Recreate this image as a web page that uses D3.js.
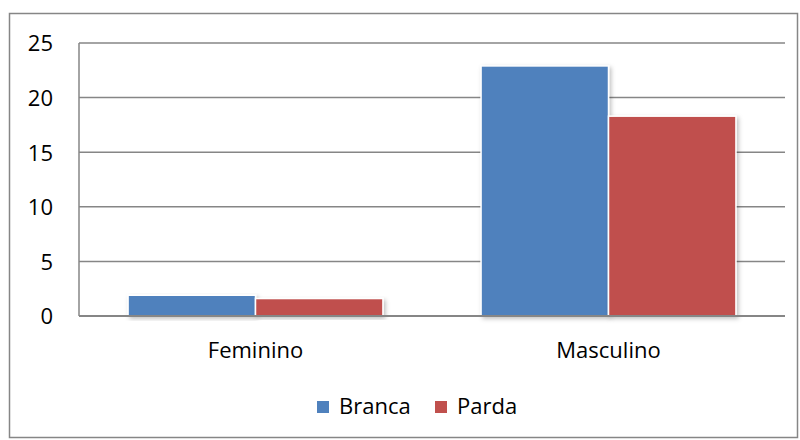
<!DOCTYPE html>
<html>
<head>
<meta charset="utf-8">
<script src="https://cdn.jsdelivr.net/npm/d3@7"></script>
<style>
  body { margin: 0; background: #fff; }
  svg text { font-family: "Open Sans", Lato, sans-serif; fill: #000; }
</style>
</head>
<body>
<svg id="chart" width="800" height="440"></svg>
<script>
var categories = ["Feminino", "Masculino"];
var seriesNames = ["Branca", "Parda"];
var branca = [1.9, 22.9];
var parda = [1.6, 18.3];
var yTicks = [0, 5, 10, 15, 20, 25];
var colors = ["#4f81bd", "#c0504d"];

var svg = d3.select("#chart");
var plotLeft = 79, plotRight = 785, plotTop = 43, plotBottom = 316;

// outer frame
svg.append("rect")
  .attr("x", 9.5).attr("y", 13.5)
  .attr("width", 788).attr("height", 424)
  .attr("fill", "#fff").attr("stroke", "#868686").attr("stroke-width", 1.5);

var defs = svg.append("defs");
var f = defs.append("filter").attr("id", "shadow")
  .attr("x", "-10%").attr("y", "-10%").attr("width", "130%").attr("height", "130%");
f.append("feDropShadow").attr("dx", 2).attr("dy", 2).attr("stdDeviation", 2)
  .attr("flood-color", "#000").attr("flood-opacity", 0.25);

var x0 = d3.scaleBand().domain(categories).range([plotLeft, plotRight]).paddingInner(0.278).paddingOuter(0.139);
var x1 = d3.scaleBand().domain(seriesNames).range([0, x0.bandwidth()]);
var y = d3.scaleLinear().domain([0, 25]).range([plotBottom, plotTop]);

// gridlines
svg.append("g").selectAll("line").data(yTicks.filter(function(d){ return d > 0; }))
  .enter().append("line")
  .attr("x1", plotLeft).attr("x2", plotRight)
  .attr("y1", function(d){ return y(d); }).attr("y2", function(d){ return y(d); })
  .attr("stroke", "#868686").attr("stroke-width", 1.5);

// left axis line
svg.append("line").attr("x1", plotLeft).attr("x2", plotLeft).attr("y1", plotTop).attr("y2", plotBottom)
  .attr("stroke", "#868686").attr("stroke-width", 1.5);

// y labels
var yAxis = d3.axisLeft(y).tickValues(yTicks).tickSize(0).tickPadding(26);
var gy = svg.append("g").attr("transform", "translate(" + plotLeft + ",0)").call(yAxis);
gy.select(".domain").remove();
gy.selectAll("text").style("font-size", "22px").style("font-family", "Open Sans").attr("dy", "0.36em");

// bars
var rows = categories.map(function(c, i){ return {cat: c, vals: [branca[i], parda[i]]}; });
var groups = svg.append("g").selectAll("g").data(rows).enter().append("g")
  .attr("transform", function(d){ return "translate(" + x0(d.cat) + ",0)"; });
groups.selectAll("rect").data(function(d){ return d.vals.map(function(v, j){ return {s: seriesNames[j], v: v, j: j}; }); })
  .enter().append("rect")
  .attr("x", function(d){ return x1(d.s); })
  .attr("width", x1.bandwidth())
  .attr("y", function(d){ return y(d.v); })
  .attr("height", function(d){ return y(0) - y(d.v); })
  .attr("fill", function(d){ return colors[d.j]; })
  .attr("stroke", "#fff").attr("stroke-width", 1.5)
  .attr("filter", "url(#shadow)");

// x axis
svg.append("line").attr("x1", plotLeft).attr("x2", plotRight).attr("y1", plotBottom).attr("y2", plotBottom)
  .attr("stroke", "#868686").attr("stroke-width", 2);
var xAxis = d3.axisBottom(x0).tickSize(0).tickPadding(0);
var gx = svg.append("g").attr("transform", "translate(0," + plotBottom + ")").call(xAxis);
gx.select(".domain").remove();
gx.selectAll("text").style("font-size", "22px").style("font-family", "Open Sans")
  .attr("y", 42).attr("dy", 0);

// legend
var legendX = [317, 435];
var lg = svg.append("g").selectAll("g").data(seriesNames).enter().append("g")
  .attr("transform", function(d, i){ return "translate(" + legendX[i] + ",401)"; });
lg.append("rect").attr("width", 12).attr("height", 12)
  .attr("fill", function(d, i){ return colors[i]; });
lg.append("text").attr("x", 22).attr("y", 13).style("font-size", "22px")
  .text(function(d){ return d; });
</script>
</body>
</html>
